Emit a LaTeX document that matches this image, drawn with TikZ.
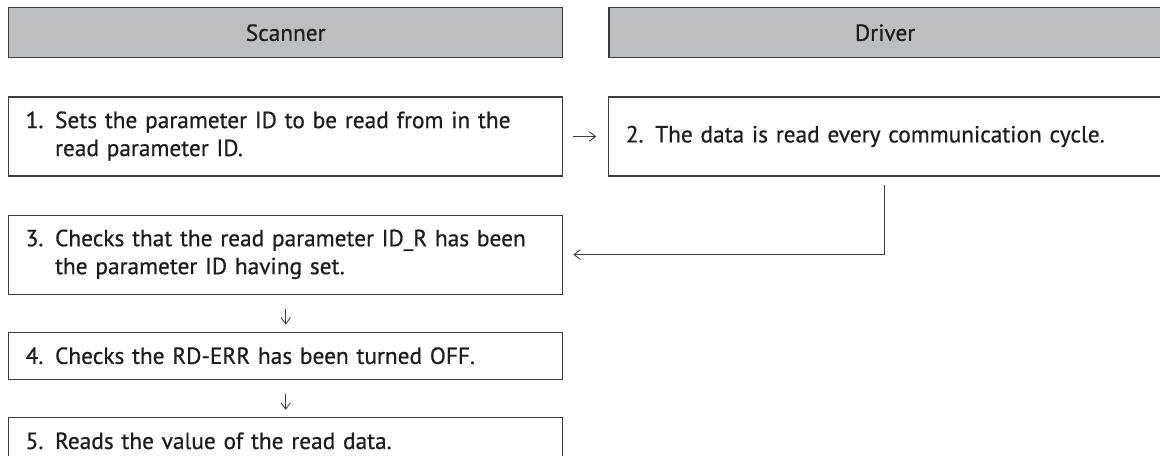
\documentclass[tikz,border=0pt]{standalone}
\usepackage{fontspec}
\setmainfont{PT Sans}[WordSpace=0.8, FakeBold=0.6]
\usepackage{xcolor}
\usepackage{tikz}
\usetikzlibrary{positioning, arrows.meta}
\definecolor{barfill}{RGB}{188,190,192}
\definecolor{lineink}{RGB}{60,60,60}
\definecolor{textink}{RGB}{30,28,28}

\begin{document}
\begin{tikzpicture}[
    every node/.style={font=\fontsize{16.6}{19.9}\selectfont, text=textink},
    lanebar/.style={
        rectangle,
        draw=lineink,
        line width=1pt,
        fill=barfill,
        align=center,
        minimum width=13.85cm,
        minimum height=1.25cm
    },
    stepbox/.style={
        rectangle,
        draw=lineink,
        line width=0.8pt,
        fill=white,
        align=left,
        text width=13cm,
        inner xsep=0.425cm,
        inner ysep=0pt,
        minimum height=1.975cm
    },
    shortbox/.style={
        stepbox,
        minimum height=1.175cm
    },
    flow/.style={-{Straight Barb[length=0.16cm, width=0.24cm]}, line width=0.6pt, draw=lineink}
]

\useasboundingbox (0,0) rectangle (29,-11.4);

\node[lanebar, anchor=north west] (scanner) at (0.2,-0.175) {Scanner};
\node[lanebar, right=1.125cm of scanner, minimum width=13.8cm] (driver) {Driver};

\node[stepbox, below=0.95cm of scanner] (read1) {\begin{tabular}{@{}l@{ }l@{}}1. & Sets the parameter ID to be read from in the\\ & read parameter ID.\end{tabular}};
\node[stepbox, right=1.125cm of read1, text width=12.95cm] (read2) {2. The data is read every communication cycle.};
\node[stepbox, below=0.95cm of read1] (read3) {\begin{tabular}{@{}l@{ }l@{}}3. & Checks that the read parameter ID\_R has been\\ & the parameter ID having set.\end{tabular}};
\node[shortbox, below=0.925cm of read3] (read4) {4. Checks the RD-ERR has been turned OFF.};
\node[shortbox, below=0.925cm of read4] (read5) {5. Reads the value of the read data.};

\draw[flow, shorten <=0.25cm, shorten >=0.3cm] (read1) -- (read2);
\draw[flow, shorten <=0.2cm, shorten >=0.25cm] (read2.south) |- (read3.east);
\draw[flow, shorten <=0.35cm, shorten >=0.175cm] (read3) -- (read4);
\draw[flow, shorten <=0.35cm, shorten >=0.175cm] (read4) -- (read5);

\end{tikzpicture}
\end{document}
